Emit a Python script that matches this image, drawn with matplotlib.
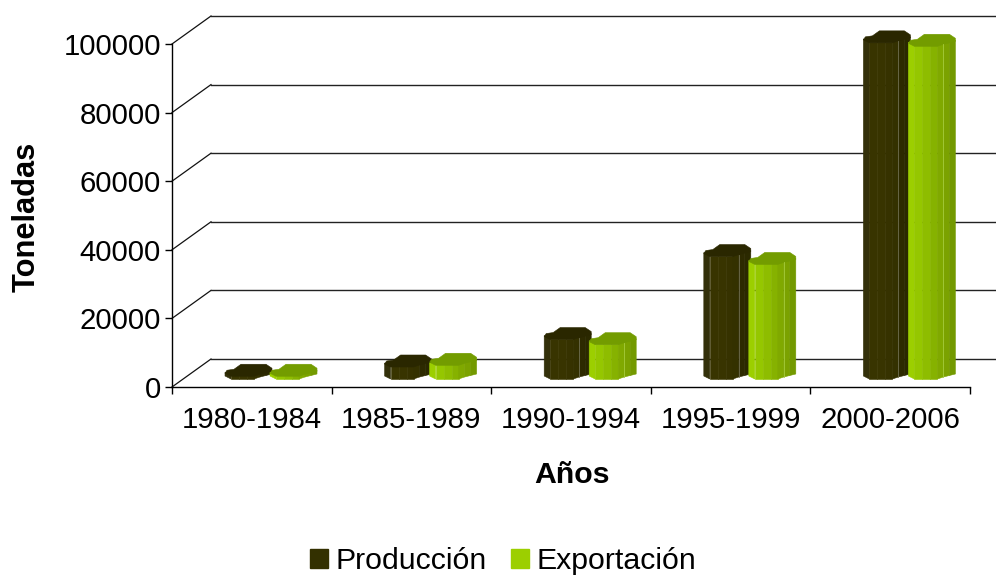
import matplotlib
matplotlib.use("Agg")
import matplotlib.pyplot as plt
from matplotlib.patches import Patch

plt.rcParams['font.family'] = ['Liberation Sans', 'DejaVu Sans']

# Data
periods = ["1980-1984", "1985-1989", "1990-1994", "1995-1999", "2000-2006"]
produccion = [800, 3500, 11500, 35700, 98000]
exportacion = [800, 4000, 10000, 33400, 97000]
y_ticks = [0, 20000, 40000, 60000, 80000, 100000]

FONT = 21.2
FONT_BIG = 21.8

# Axes box in pixels of the 996x575 picture
W, H = 996, 575
LEFT, RIGHT, BOTTOM, TOP = 172, 970, 387, 44
DX = len(periods) / (RIGHT - LEFT)     # data units per pixel, x
DY = 100000 / (BOTTOM - TOP)           # data units per pixel, y

# fake 3D depth of the box, pixels
DEPTH_X, DEPTH_Y = 39, 28

# octagon seen from above: pixels from left edge / top edge of the outline
TOP_SHAPE = [(0, 9), (2, 6), (9, 5), (16, 0), (41, 0), (47, 4), (47, 7),
             (35, 10), (29, 12), (6, 12)]
# front edge of the octagon, split where the shading changes
FRONT = [(0, 9), (6, 12), (14, 12), (22, 12), (29, 12), (35, 10), (41, 8.5), (47, 7)]

DARK_SHADES = ["#33300a", "#383400", "#383400", "#363200", "#343100", "#2d2a00", "#2b2900"]
DARK_TOP = "#2a2700"
LIGHT_SHADES = ["#9ccf00", "#95c700", "#8ebd00", "#86b200", "#80a900", "#7ba200", "#739900"]
LIGHT_TOP = "#739c00"


def draw_bar(ax, i, offset, value, shades, top_color, edge):
    # one octagonal column, value is the height above the middle of the floor
    x0 = i + offset * DX
    y_top = (DEPTH_Y / 2) * DY + value
    y_bot = (DEPTH_Y / 2) * DY

    def px(fx, fy, y_ref):
        return x0 + fx * DX, y_ref - (fy - 6) * DY

    for k in range(len(FRONT) - 1):
        a, b = FRONT[k], FRONT[k + 1]
        # run one pixel under the top face so no seam shows
        y_up = y_top + DY
        corners = [px(*a, y_up), px(*b, y_up), px(*b, y_bot), px(*a, y_bot)]
        xs, ys = zip(*corners)
        ax.fill(xs, ys, color=shades[k], lw=0.4, zorder=3, clip_on=False)

    xs, ys = zip(*[px(fx, fy, y_top) for fx, fy in TOP_SHAPE])
    ax.fill(xs, ys, color=top_color, lw=0.4, zorder=4, clip_on=False)

    # thin light line on the edge of the front face
    if value > 5000:
        xe, ye = px(35, 10, y_top)
        ax.plot([xe, xe], [ye, y_bot - 4 * DY], color=edge, lw=0.6, zorder=4,
                clip_on=False)


fig = plt.figure(figsize=(W / 100, H / 100), dpi=100)
ax = fig.add_axes([LEFT / W, 1 - BOTTOM / H, (RIGHT - LEFT) / W, (BOTTOM - TOP) / H])
ax.set_xlim(0, len(periods))
ax.set_ylim(0, 100000)

# back wall and floor lines
for v in y_ticks:
    y_back = v + DEPTH_Y * DY
    ax.plot([0, DEPTH_X * DX], [v, y_back], color="#111111", lw=0.9, zorder=1,
            clip_on=False)
    ax.plot([DEPTH_X * DX, (W - LEFT) * DX], [y_back, y_back], color="#222222",
            lw=1.0, zorder=1, clip_on=False)

for i in range(len(periods)):
    draw_bar(ax, i, 53, produccion[i], DARK_SHADES, DARK_TOP, "#6f6e50")
    draw_bar(ax, i, 98, exportacion[i], LIGHT_SHADES, LIGHT_TOP, "#a6cc3c")

ax.spines['top'].set_visible(False)
ax.spines['right'].set_visible(False)
ax.spines['left'].set_linewidth(1.0)
ax.spines['bottom'].set_linewidth(1.0)
ax.patch.set_visible(False)

ax.set_yticks(y_ticks)
ax.set_yticklabels([str(v) for v in y_ticks], fontsize=FONT)
ax.set_xticks(range(len(periods) + 1))
ax.set_xticklabels([])
ax.set_xticks([i + 0.5 for i in range(len(periods))], minor=True)
ax.set_xticklabels(periods, minor=True, fontsize=FONT)
ax.tick_params(axis='x', which='minor', length=0, pad=14)
ax.tick_params(axis='x', which='major', length=5, width=1)
ax.tick_params(axis='y', length=5, width=1, pad=3)

fig.text(572 / W, 1 - 475 / H, "Años", fontsize=FONT_BIG, fontweight='bold',
         ha='center', va='center')
fig.text(27 / W, 1 - 217 / H, "Toneladas", fontsize=FONT_BIG + 0.4, fontweight='bold',
         rotation=90, ha='center', va='center')

handles = [Patch(color="#333000", label="Producción"),
           Patch(color="#9ccf00", label="Exportación")]
fig.legend(handles=handles, loc='center', bbox_to_anchor=(503 / W, 1 - 561 / H),
           ncol=2, frameon=False, fontsize=FONT_BIG, handlelength=0.6,
           handleheight=0.6, handletextpad=0.24, columnspacing=0.8,
           borderpad=0, borderaxespad=0)

fig.savefig("out.png", dpi=100)
